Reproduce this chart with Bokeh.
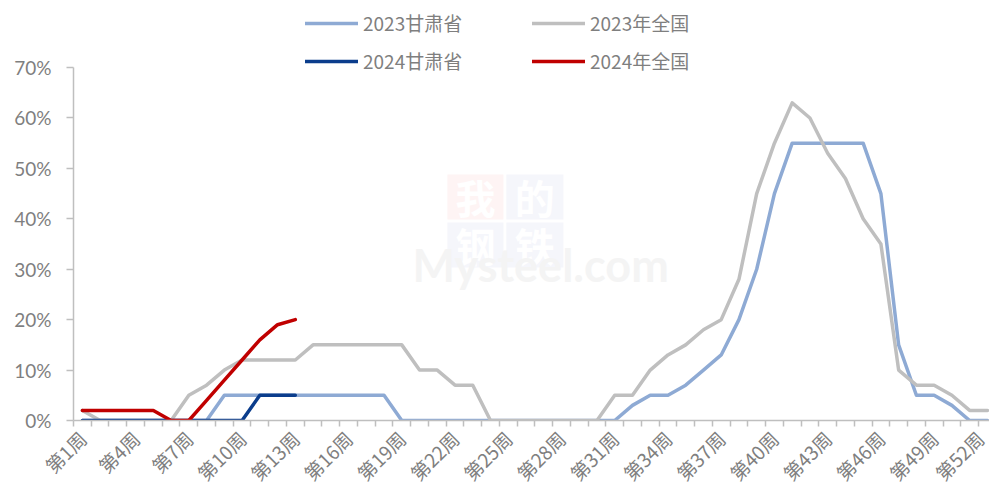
import math
from bokeh.plotting import figure
from bokeh.models import (ColumnDataSource, Range1d, FixedTicker, NumeralTickFormatter,
                          Legend, LegendItem, Label, BoxAnnotation)
from bokeh.embed import file_html
from bokeh.resources import INLINE

# ---------------- data ----------------
weeks = list(range(1, 53))
week_labels = [f"第{i}周" for i in weeks]
tick_weeks = list(range(1, 53, 3))

gansu_2023 = [0, 0, 0, 0, 0, 0, 0, 0, 5, 5,
              5, 5, 5, 5, 5, 5, 5, 5, 0, 0,
              0, 0, 0, 0, 0, 0, 0, 0, 0, 0,
              0, 3, 5, 5, 7, 10, 13, 20, 30, 45,
              55, 55, 55, 55, 55, 45, 15, 5, 5, 3,
              0, 0]
national_2023 = [2, 0, 0, 0, 0, 0, 5, 7, 10, 12,
                 12, 12, 12, 15, 15, 15, 15, 15, 15, 10,
                 10, 7, 7, 0, 0, 0, 0, 0, 0, 0,
                 5, 5, 10, 13, 15, 18, 20, 28, 45, 55,
                 63, 60, 53, 48, 40, 35, 10, 7, 7, 5,
                 2, 2]
gansu_2024 = [0, 0, 0, 0, 0, 0, 0, 0, 0, 0, 5, 5, 5]
national_2024 = [2, 2, 2, 2, 2, 0, 0, 4, 8, 12, 16, 19, 20]

y_ticks = [0, 10, 20, 30, 40, 50, 60, 70]

series_names = ["2023甘肃省", "2023年全国", "2024甘肃省", "2024年全国"]
series_values = [gansu_2023, national_2023, gansu_2024, national_2024]
series_colors = ["#8eaad4", "#bfbfbf", "#0b3d8c", "#c00000"]

# ---------------- figure ----------------
# frame spans above the 70% line so the legend can sit in the top area;
# the y axis line itself is bounded to 0..70%
p = figure(width=989, height=500, output_backend="svg", toolbar_location=None,
           x_range=Range1d(0.5, 52.12), y_range=Range1d(0, 0.833),
           min_border_left=73, min_border_right=0, min_border_bottom=80, min_border_top=0)
p.outline_line_color = None
p.grid.grid_line_color = None
p.background_fill_color = "white"
p.border_fill_color = "white"

# faint watermark
wm_boxes = [(21.57, 24.73, 0.3985, 0.4878, "#fef4f4", "我"),
            (24.89, 28.11, 0.3985, 0.4878, "#f5f6fb", "的"),
            (21.57, 24.73, 0.3034, 0.3926, "#f5f6fb", "钢"),
            (24.89, 28.11, 0.3034, 0.3926, "#f5f6fb", "铁")]
for l, r, b, t, c, ch in wm_boxes:
    p.add_layout(BoxAnnotation(left=l, right=r, bottom=b, top=t, fill_color=c,
                               fill_alpha=1, line_color=None, level="underlay"))
    p.add_layout(Label(x=(l + r) / 2, y=(b + t) / 2, text=ch, text_align="center",
                       text_baseline="middle", text_font="Noto Sans CJK SC",
                       text_font_size="40px", text_font_style="bold",
                       text_color="#ffffff", level="underlay"))
p.add_layout(Label(x=19.6, y=0.254, text="Mysteel.com", text_font="Lato",
                   text_font_size="45px", text_font_style="bold",
                   text_color="#f4f4f4", level="underlay"))

renderers = []
for name, vals, col in zip(series_names, series_values, series_colors):
    src = ColumnDataSource(dict(x=weeks[:len(vals)], y=[v / 100 for v in vals]))
    r = p.line("x", "y", source=src, line_color=col, line_width=3.5,
               line_join="round", line_cap="round")
    renderers.append(r)

# ---------------- axes ----------------
xa = p.xaxis[0]
xa.ticker = FixedTicker(ticks=tick_weeks, minor_ticks=[w + 0.5 for w in range(0, 53)])
xa.major_label_overrides = {w: week_labels[w - 1] for w in tick_weeks}
xa.major_label_orientation = math.pi / 4
xa.major_tick_line_color = None
xa.major_tick_out = 0
xa.major_tick_in = 0
xa.minor_tick_out = 6
xa.minor_tick_in = 0
xa.minor_tick_line_color = "#bfbfbf"
xa.minor_tick_line_width = 1.5
xa.axis_line_color = "#bfbfbf"
xa.axis_line_width = 1.5
xa.major_label_text_font = "Noto Sans CJK SC"
xa.major_label_text_font_size = "19px"
xa.major_label_text_color = "#7f7f7f"
xa.major_label_standoff = 8

ya = p.yaxis[0]
ya.bounds = (0, 0.70)
ya.ticker = FixedTicker(ticks=[v / 100 for v in y_ticks], minor_ticks=[])
ya.formatter = NumeralTickFormatter(format="0%")
ya.major_tick_out = 7
ya.major_tick_in = 0
ya.major_tick_line_color = "#bfbfbf"
ya.major_tick_line_width = 1.5
ya.axis_line_color = "#bfbfbf"
ya.axis_line_width = 1.5
ya.minor_tick_line_color = None
ya.major_label_text_font = "Lato"
ya.major_label_text_font_size = "19px"
ya.major_label_text_color = "#7f7f7f"
ya.major_label_standoff = 15

# ---------------- legend (column-major fill: col 1 = 甘肃省, col 2 = 全国) ----------------
legend_order = [0, 2, 1, 3]
legend = Legend(items=[LegendItem(label=series_names[i], renderers=[renderers[i]]) for i in legend_order],
                ncols=2, location=(232, 346),
                label_text_font="Noto Sans CJK SC", label_text_font_size="19px",
                label_text_color="#7f7f7f", glyph_width=53, glyph_height=20,
                label_height=20, label_width=158, label_standoff=5, spacing=11,
                padding=0, margin=0, border_line_color=None, background_fill_alpha=0)
p.add_layout(legend, "center")

open("out.html", "w").write(file_html(p, INLINE))
